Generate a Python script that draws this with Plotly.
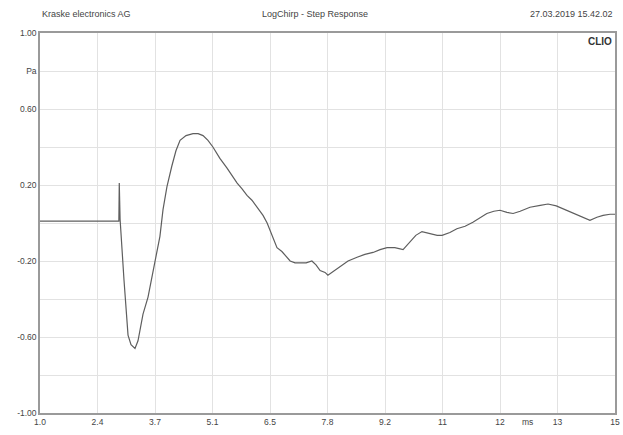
import plotly.graph_objects as go

# Step response data (time in ms, pressure in Pa)
time_ms = [1.0, 2.92, 2.93, 2.95, 3.045, 3.143, 3.216, 3.313, 3.386, 3.508, 3.63, 3.80, 3.92,
           3.995, 4.09, 4.21, 4.31, 4.41, 4.555, 4.725, 4.85, 4.97, 5.09, 5.21, 5.38, 5.55,
           5.67, 5.80, 5.92, 6.04, 6.16, 6.28, 6.36, 6.43, 6.53, 6.65, 6.77, 6.89, 7.09,
           7.21, 7.33, 7.48, 7.62, 7.72, 7.82, 7.94, 8.01, 8.11, 8.30, 8.50, 8.72, 8.91,
           9.11, 9.28, 9.45, 9.64, 9.84, 10.01, 10.15, 10.30, 10.50, 10.67, 10.79, 10.98,
           11.15, 11.35, 11.54, 11.71, 11.88, 12.05, 12.20, 12.37, 12.52, 12.69, 12.93,
           13.18, 13.37, 13.57, 13.83, 14.10, 14.27, 14.39, 14.56, 14.71, 14.88, 15.0]
pressure_pa = [0.01, 0.01, 0.21, 0.02, -0.30, -0.59, -0.64, -0.66, -0.62, -0.48, -0.39, -0.20,
               -0.07, 0.07, 0.19, 0.30, 0.38, 0.435, 0.46, 0.47, 0.47, 0.46, 0.435, 0.40, 0.34,
               0.29, 0.25, 0.21, 0.18, 0.145, 0.12, 0.083, 0.056, 0.04, 0.0, -0.07, -0.13,
               -0.15, -0.20, -0.21, -0.21, -0.21, -0.20, -0.22, -0.25, -0.26, -0.275, -0.26,
               -0.23, -0.20, -0.18, -0.165, -0.155, -0.14, -0.13, -0.13, -0.14, -0.10, -0.065,
               -0.045, -0.055, -0.065, -0.065, -0.05, -0.03, -0.017, 0.004, 0.025, 0.05, 0.062,
               0.067, 0.056, 0.05, 0.062, 0.083, 0.093, 0.10, 0.09, 0.067, 0.04, 0.025, 0.014,
               0.03, 0.04, 0.046, 0.046]

x_tick_vals = [1.0, 2.4, 3.8, 5.2, 6.6, 8.0, 9.4, 10.8, 12.2, 13.6, 15.0]
x_tick_text = ["1.0", "2.4", "3.7", "5.1", "6.5", "7.8", "9.2", "11", "12", "13", "15"]
y_tick_vals = [1.0, 0.8, 0.6, 0.4, 0.2, 0.0, -0.2, -0.4, -0.6, -0.8, -1.0]
y_tick_text = ["1.00", "Pa", "0.60", "", "0.20", "", "-0.20", "", "-0.60", "", "-1.00"]

header_left = "Kraske electronics AG"
header_center = "LogChirp - Step Response"
header_right = "27.03.2019 15.42.02"

font_family = "Liberation Sans, Arial, sans-serif"
text_color = "#444444"

fig = go.Figure()
fig.add_trace(go.Scatter(x=time_ms, y=pressure_pa, mode="lines",
                         line=dict(color="#5e5e5e", width=1.2), showlegend=False,
                         hoverinfo="skip"))

fig.update_layout(
    width=623, height=435,
    margin=dict(l=40, r=8, t=33, b=22),
    paper_bgcolor="white", plot_bgcolor="white",
    font=dict(family=font_family, size=8.5, color=text_color),
    xaxis=dict(range=[1.0, 15.0], tickvals=x_tick_vals, ticktext=x_tick_text,
               showgrid=True, gridcolor="#e2e2e2", gridwidth=1,
               showline=True, linecolor="#9a9a9a", linewidth=1.5, mirror=True,
               ticks="", zeroline=False, automargin=False,
               tickfont=dict(size=8.5, color=text_color)),
    yaxis=dict(range=[-1.0, 1.0], tickvals=y_tick_vals, ticktext=y_tick_text,
               showgrid=True, gridcolor="#e2e2e2", gridwidth=1,
               showline=True, linecolor="#9a9a9a", linewidth=1.5, mirror=True,
               ticks="", zeroline=False, automargin=False,
               tickfont=dict(size=8.5, color=text_color)),
)

annotations = [
    dict(text=header_left, x=0.0, y=1.0, xref="paper", yref="paper",
         xanchor="left", yanchor="bottom", yshift=12, showarrow=False,
         font=dict(size=9, color=text_color)),
    dict(text=header_center, x=0.478, y=1.0, xref="paper", yref="paper",
         xanchor="center", yanchor="bottom", yshift=12, showarrow=False,
         font=dict(size=9, color=text_color)),
    dict(text=header_right, x=1.0, y=1.0, xref="paper", yref="paper",
         xanchor="right", yanchor="bottom", yshift=12, showarrow=False,
         font=dict(size=9, color=text_color)),
    dict(text="<b>CLIO</b>", x=1.0, y=1.0, xref="paper", yref="paper",
         xanchor="right", yanchor="top", xshift=-1, yshift=-1, showarrow=False,
         font=dict(size=10, color="#333333")),
    dict(text="ms", x=12.88, y=0, xref="x", yref="paper",
         xanchor="center", yanchor="top", yshift=-2, showarrow=False,
         font=dict(size=8.5, color=text_color)),
]
fig.update_layout(annotations=annotations)

fig.write_html("out.html", config={"displayModeBar": False},
               post_script="document.body.style.margin='0';document.body.style.overflow='hidden';")
